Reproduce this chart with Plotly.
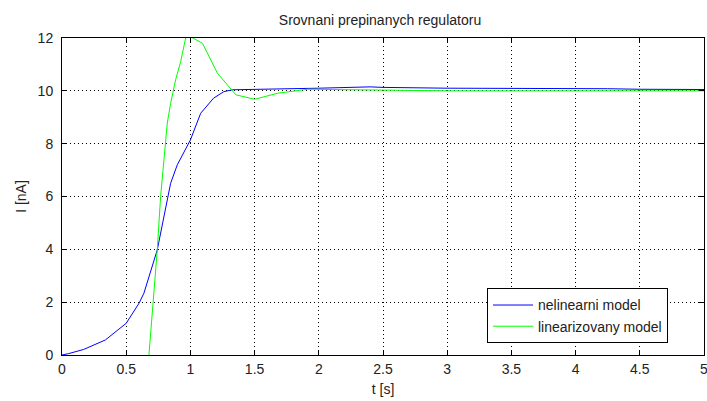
import plotly.graph_objects as go

t_nelin = [0.0, 0.05, 0.169, 0.338, 0.5, 0.6, 0.638, 0.742, 0.846, 0.898, 1.0, 1.08, 1.18,
           1.26, 1.328, 1.5, 1.75, 2.0, 2.4, 2.5, 3.0, 3.5, 4.0, 4.25, 4.5, 5.0]
i_nelin = [0.0, 0.05, 0.21, 0.57, 1.2, 1.96, 2.34, 3.98, 6.5, 7.2, 8.14, 9.15, 9.72,
           9.97, 10.04, 10.05, 10.07, 10.1, 10.15, 10.13, 10.1, 10.1, 10.1, 10.08, 10.06, 10.05]

t_lin = [0.677, 0.716, 0.742, 0.768, 0.794, 0.82, 0.846, 0.885, 0.924, 0.963, 1.0, 1.094,
         1.21, 1.315, 1.354, 1.5, 1.68, 1.914, 2.5, 3.0, 4.0, 5.0]
i_lin = [0.0, 2.2, 3.98, 6.0, 7.26, 8.78, 9.53, 10.42, 11.1, 12.0, 12.05, 11.8,
         10.67, 10.04, 9.85, 9.68, 9.91, 10.06, 10.02, 10.0, 10.0, 10.0]

x_ticks = [0, 0.5, 1, 1.5, 2, 2.5, 3, 3.5, 4, 4.5, 5]
y_ticks = [0, 2, 4, 6, 8, 10, 12]

FONT = "Liberation Sans, Arial, sans-serif"

fig = go.Figure()
fig.add_trace(go.Scatter(x=t_nelin, y=i_nelin, mode="lines", name="nelinearni model",
                         line=dict(color="#0000ff", width=1)))
fig.add_trace(go.Scatter(x=t_lin, y=i_lin, mode="lines", name="linearizovany model",
                         line=dict(color="#00ff00", width=1)))

axis_common = dict(showline=True, linecolor="black", linewidth=1, mirror="allticks",
                   ticks="inside", ticklen=5, tickcolor="black", showgrid=True,
                   gridcolor="black", griddash="1px,3px", gridwidth=1, zeroline=False,
                   ticklabeloverflow="allow",
                   tickfont=dict(family=FONT, size=14, color="#222222"))

fig.update_layout(
    width=707, height=401,
    margin=dict(l=62, r=3, t=38, b=46),
    paper_bgcolor="white", plot_bgcolor="white",
    font=dict(family=FONT, size=14, color="#222222"),
    title=dict(text="Srovnani prepinanych regulatoru", x=380 / 707, xanchor="center",
               y=1 - 20 / 401, yanchor="middle", font=dict(size=14)),
    xaxis=dict(range=[0, 5], tickvals=x_ticks, ticktext=[str(v) for v in x_ticks],
               ticklabelstandoff=1, automargin=False,
               title=dict(text="t [s]", standoff=8, font=dict(size=14)), **axis_common),
    yaxis=dict(range=[0, 12], tickvals=y_ticks, ticklabelstandoff=5, automargin=True,
               title=dict(text="I [nA]", standoff=7, font=dict(size=14)), **axis_common),
    legend=dict(x=0.662, y=0.21, xanchor="left", yanchor="top", bgcolor="white",
                bordercolor="black", borderwidth=1, font=dict(size=14),
                tracegroupgap=0, itemwidth=40),
    showlegend=True,
)

fig.write_html("out.html")
